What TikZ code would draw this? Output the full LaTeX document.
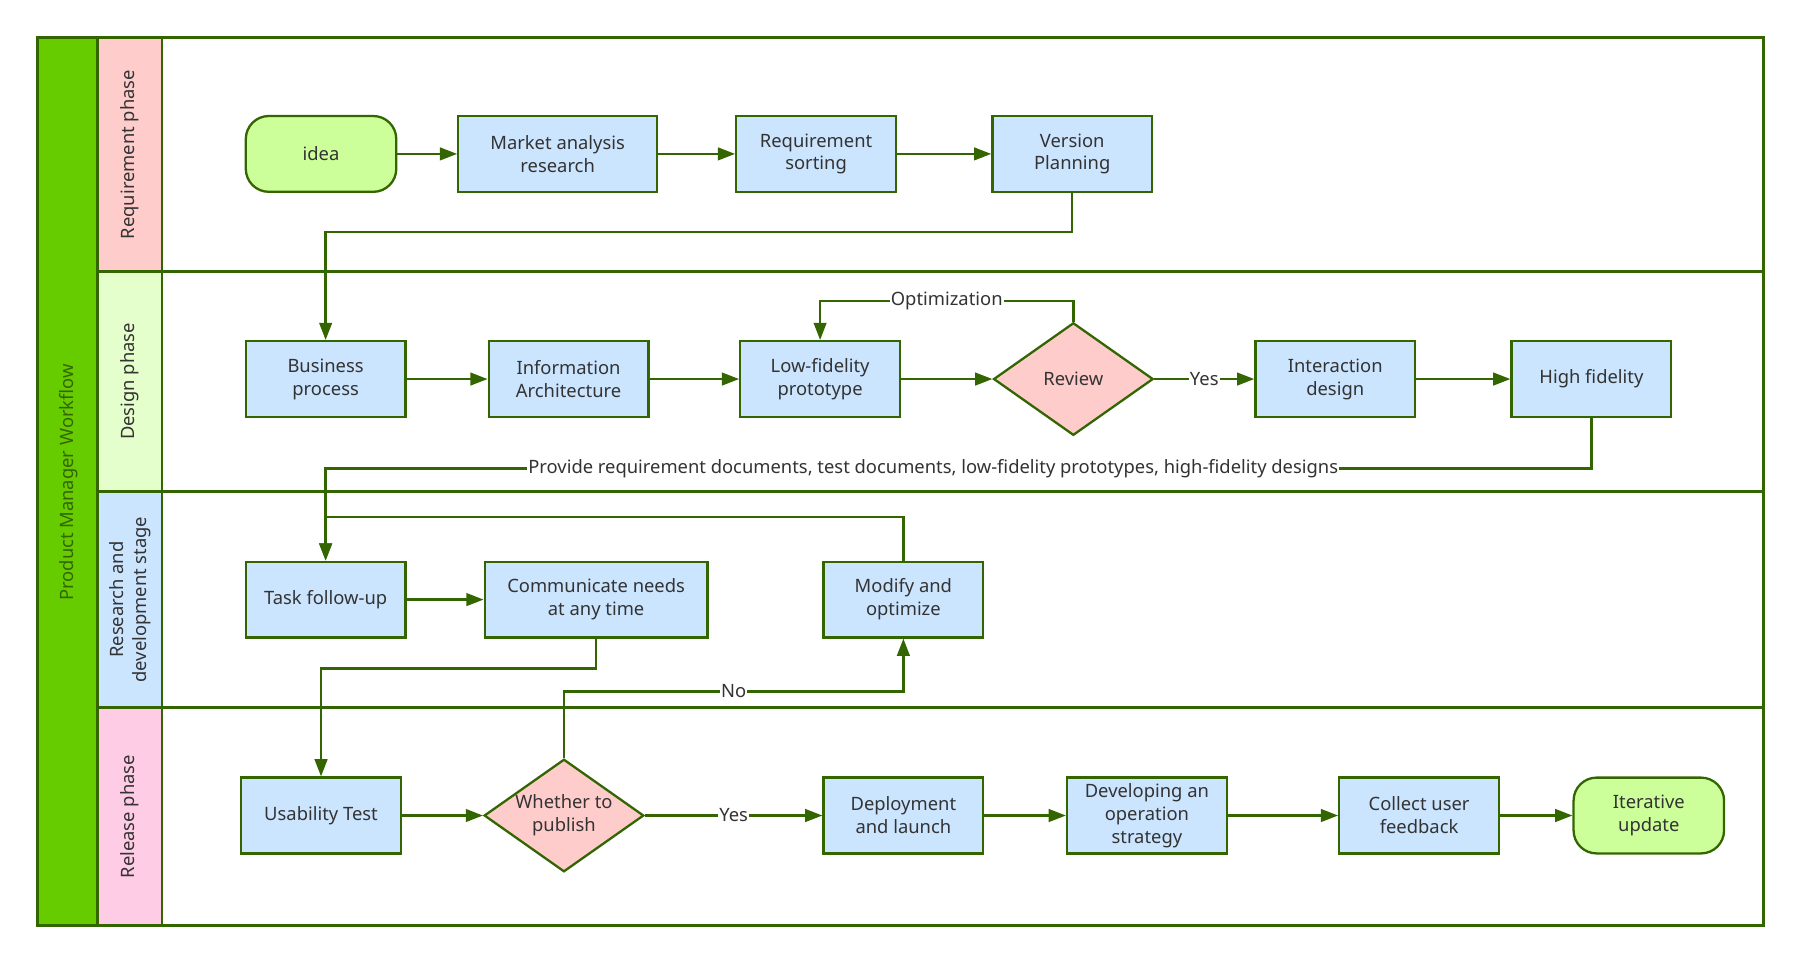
\documentclass[tikz,border=0pt]{standalone}
\usepackage{fontspec}
\setmainfont{Noto Sans}
\usetikzlibrary{arrows.meta}
\usetikzlibrary{shapes.geometric}

\definecolor{edgegreen}{HTML}{336600}
\definecolor{titlegreen}{HTML}{66CC00}
\definecolor{boxblue}{HTML}{CCE5FF}
\definecolor{diapink}{HTML}{FFCCCC}
\definecolor{termgreen}{HTML}{CCFF99}
\definecolor{lanepink}{HTML}{FFCCCC}
\definecolor{lanelime}{HTML}{E5FFCC}
\definecolor{laneblue}{HTML}{CCE5FF}
\definecolor{lanerose}{HTML}{FFCCE6}
\definecolor{txtgray}{HTML}{333333}

\tikzset{
    task/.style={draw=edgegreen, fill=boxblue, line width=2pt, minimum width=139pt, minimum height=66pt, align=center, text=txtgray, inner sep=2pt},
    decision/.style={diamond, draw=edgegreen, fill=diapink, line width=2pt, minimum width=139pt, minimum height=98pt, aspect=1.42, inner sep=0pt, align=center, text=txtgray},
    terminal/.style={draw=edgegreen, fill=termgreen, line width=2pt, rounded corners=20pt, minimum width=131pt, minimum height=66pt, align=center, text=txtgray},
    flow/.style={draw=edgegreen, line width=2pt, -{Triangle[length=15pt,width=11pt]}},
    edgelabel/.style={fill=white, inner sep=1pt, text=txtgray},
}

\begin{document}
\begin{tikzpicture}[x=1pt, y=-1pt, font=\fontsize{16}{20}\selectfont]
        \useasboundingbox (0,0) rectangle (1568,839);
        % lanes
        \fill[titlegreen] (33,33) rectangle (85,806);
        \foreach \i/\ytop/\ybot/\col/\txt in {1/33/236/lanepink/{Requirement phase}, 2/236/428/lanelime/{Design phase}, 3/428/616/laneblue/{Research and\\development stage}, 4/616/806/lanerose/{Release phase}} {
            \fill[\col] (85,\ytop) rectangle (141,\ybot);
            \node[rotate=90, align=center, text=txtgray] (lane\i) at (113,{(\ytop+\ybot)/2}) {\txt};
        }
        \begin{scope}[edgegreen, line width=2.5pt]
            \draw (33,33) rectangle (1535,806);
            \draw (85,33) -- (85,806);
            \draw (141,33) -- (141,806);
            \foreach \y in {236,428,616} {
                \draw (85,\y) -- (1535,\y);
            }
        \end{scope}
        \node[rotate=90, text=edgegreen] (title) at (60,420) {Product Manager Workflow};

        % requirement phase
        \node[terminal] (idea) at (279.5,134) {idea};
        \node[task, minimum width=173pt] (market) at (485.5,134) {Market analysis\\research};
        \node[task] (sorting) at (710.5,134) {Requirement\\sorting};
        \node[task] (version) at (933.5,134) {Version\\Planning};

        % design phase
        \node[task] (business) at (283.5,330) {Business\\process};
        \node[task] (infoarch) at (495,330) {Information\\Architecture};
        \node[task] (lowfi) at (714,330) {Low-fidelity\\prototype};
        \node[decision] (review) at (934.5,330) {Review};
        \node[task] (interact) at (1162.5,330) {Interaction\\design};
        \node[task] (highfi) at (1385.5,330) {High fidelity};

        % research and development
        \node[task] (followup) at (283.5,522) {Task follow-up};
        \node[task, minimum width=194pt] (communicate) at (519,522) {Communicate needs\\at any time};
        \node[task] (modify) at (786.5,522) {Modify and\\optimize};

        % release phase
        \node[task] (usability) at (279.5,710) {Usability Test};
        \node[decision] (publish) at (491,710) {Whether to\\publish};
        \node[task] (deploy) at (786.5,710) {Deployment\\and launch};
        \node[task] (strategy) at (998.5,710) {Developing an\\operation\\strategy};
        \node[task] (feedback) at (1235.5,710) {Collect user\\feedback};
        \node[terminal] (iterate) at (1435.5,710) {Iterative\\update};

        % connectors
        \draw[flow] (idea) -- (market);
        \draw[flow] (market) -- (sorting);
        \draw[flow] (sorting) -- (version);
        \draw[flow] (version.south) -- ++(0,34) -| (business.north);
        \draw[flow] (business) -- (infoarch);
        \draw[flow] (infoarch) -- (lowfi);
        \draw[flow] (lowfi) -- (review);
        \draw[flow] (review) -- node[edgelabel] {Yes} (interact);
        \draw[flow] (review.north) -- ++(0,-18) -| node[edgelabel, pos=0.25] {Optimization} (lowfi.north);
        \draw[flow] (interact) -- (highfi);
        \draw[flow] (highfi.south) -- ++(0,44) -| node[edgelabel, pos=0.26] {Provide requirement documents, test documents, low-fidelity prototypes, high-fidelity designs} (followup.north);
        \draw[flow] (modify.north) -- ++(0,-38) -| (followup.north);
        \draw[flow] (followup) -- (communicate);
        \draw[flow] (communicate.south) -- ++(0,26) -| (usability.north);
        \draw[flow] (usability) -- (publish);
        \draw[flow] (publish.north) -- ++(0,-58) -| node[edgelabel, pos=0.25] {No} (modify.south);
        \draw[flow] (publish) -- node[edgelabel] {Yes} (deploy);
        \draw[flow] (deploy) -- (strategy);
        \draw[flow] (strategy) -- (feedback);
        \draw[flow] (feedback) -- (iterate);
    \end{tikzpicture}
\end{document}
